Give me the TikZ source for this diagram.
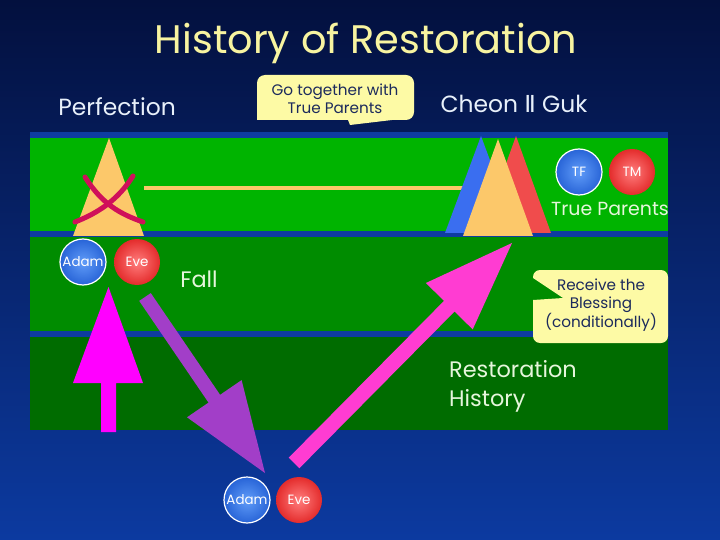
\documentclass[tikz,border=0pt]{standalone}
\usepackage{fontspec}
\setmainfont{Poppins}
\newfontfamily\djv{DejaVu Sans}
\definecolor{bgtop}{RGB}{3,16,62}
\definecolor{bgbot}{RGB}{12,58,160}
\definecolor{strip}{RGB}{14,60,160}
\definecolor{gA}{RGB}{0,180,0}
\definecolor{gB}{RGB}{0,140,0}
\definecolor{gC}{RGB}{0,108,0}
\definecolor{tri}{RGB}{252,200,106}
\definecolor{triblue}{RGB}{58,110,240}
\definecolor{trired}{RGB}{240,76,76}
\definecolor{xcol}{RGB}{208,16,90}
\definecolor{titlecol}{RGB}{248,244,160}
\definecolor{wtext}{RGB}{232,240,250}
\definecolor{gtext}{RGB}{230,246,220}
\definecolor{callfill}{RGB}{253,250,165}
\definecolor{calltext}{RGB}{28,42,92}
\definecolor{magA}{RGB}{255,0,255}
\definecolor{purp}{RGB}{162,62,200}
\definecolor{pinkA}{RGB}{255,60,210}
\definecolor{bluein}{RGB}{96,156,248}
\definecolor{blueout}{RGB}{40,100,215}
\definecolor{redin}{RGB}{255,125,125}
\definecolor{redout}{RGB}{228,44,44}
\begin{document}
\begin{tikzpicture}[x=1bp,y=-1bp,
  bluec/.style={circle,minimum size=46bp,inner sep=0pt,shading=radial,inner color=bluein,outer color=blueout,draw=white,line width=1.2bp,text=white,font=\fontsize{13.5}{13.5}\selectfont},
  redc/.style={circle,minimum size=46bp,inner sep=0pt,shading=radial,inner color=redin,outer color=redout,text=white,font=\fontsize{13.5}{13.5}\selectfont},
  bigw/.style={text=wtext,font=\fontsize{23.5}{24}\selectfont,inner sep=0pt},
  bigg/.style={text=gtext,font=\fontsize{22.5}{29}\selectfont,inner sep=0pt},
  calltxt/.style={text=calltext,font=\fontsize{15.3}{18}\selectfont,align=center,inner sep=0pt},
  callout/.style={fill=callfill}
]
\useasboundingbox (0,0) rectangle (720,540);
\shade[top color=bgtop,bottom color=bgbot] (0,0) rectangle (720,540);

% bands
\fill[strip] (30,132) rectangle (668,430);
\fill[gA] (30,138) rectangle (668,231);
\fill[gB] (30,237) rectangle (668,331);
\fill[gC] (30,337) rectangle (668,430);

% title and labels
\node[text=titlecol,font=\fontsize{40}{44}\selectfont,inner sep=0pt] (title) at (366,43) {History of Restoration};
\node[bigw] (perf) at (117,107) {Perfection};
\node[bigw] (cig) at (514,104) {Cheon {\djv Ⅱ} Guk};

% left triangle with cross
\fill[tri] (109,138) -- (144,236) -- (73,236) -- cycle;
\draw[xcol,line width=5bp,line cap=round] (85,177) .. controls (102,204) and (120,214) .. (143,222);
\draw[xcol,line width=5bp,line cap=round] (133,176) .. controls (118,200) and (98,213) .. (75,222);

% yellow link line
\draw[tri,line width=4bp] (144,188) -- (483,188);

% right triangles
\fill[triblue] (481,136) -- (517,233) -- (445,233) -- cycle;
\fill[trired] (516,136) -- (551,233) -- (481,233) -- cycle;
\fill[tri] (498,139) -- (533,236) -- (463,236) -- cycle;

% arrows
\fill[magA] (101,432) -- (116,432) -- (116,383) -- (143,383) -- (108.5,287) -- (73,383) -- (101,383) -- cycle;
\fill[purp] (139.2,300.9) -- (150.8,293.1) -- (220.1,394.8) -- (241.6,380.1) -- (265,473) -- (187,417.3) -- (208.5,402.6) -- cycle;
\fill[pinkA] (288.7,457.7) -- (299.3,468.3) -- (454.6,311.5) -- (472.7,329.4) -- (512,243) -- (425.9,283) -- (444,300.9) -- cycle;

% circles
\node[bluec] (adam1) at (83,262) {Adam};
\node[redc] (eve1) at (137,262) {Eve};
\node[bluec] (tf) at (579,172) {TF};
\node[redc] (tm) at (632,172) {TM};
\node[bluec] (adam2) at (247,500) {Adam};
\node[redc] (eve2) at (299,500) {Eve};

% green labels
\node[bigg] (fall) at (199,279) {Fall};
\node[text=gtext,font=\fontsize{19}{22}\selectfont,inner sep=0pt] (tp) at (610,209) {True Parents};
\node[bigg,align=left,anchor=west] (rh) at (449,386) {Restoration\\History};

% callouts
\fill[callout,rounded corners=8bp] (257,120) -- (257,75) -- (414,75) -- (414,120) [sharp corners] -- (392,120) -- (350,125) -- (348,120) -- cycle;
\node[calltxt] (c1) at (335,99) {Go together with\\True Parents};
\fill[callout] (533,278) [rounded corners=7bp] -- (533,270) -- (668,270) -- (668,343) -- (533,343) [sharp corners] -- (533,300) -- (563,298) -- cycle;
\node[calltxt] (c2) at (601,305) {Receive the\\Blessing\\(conditionally)};
\end{tikzpicture}
\end{document}
